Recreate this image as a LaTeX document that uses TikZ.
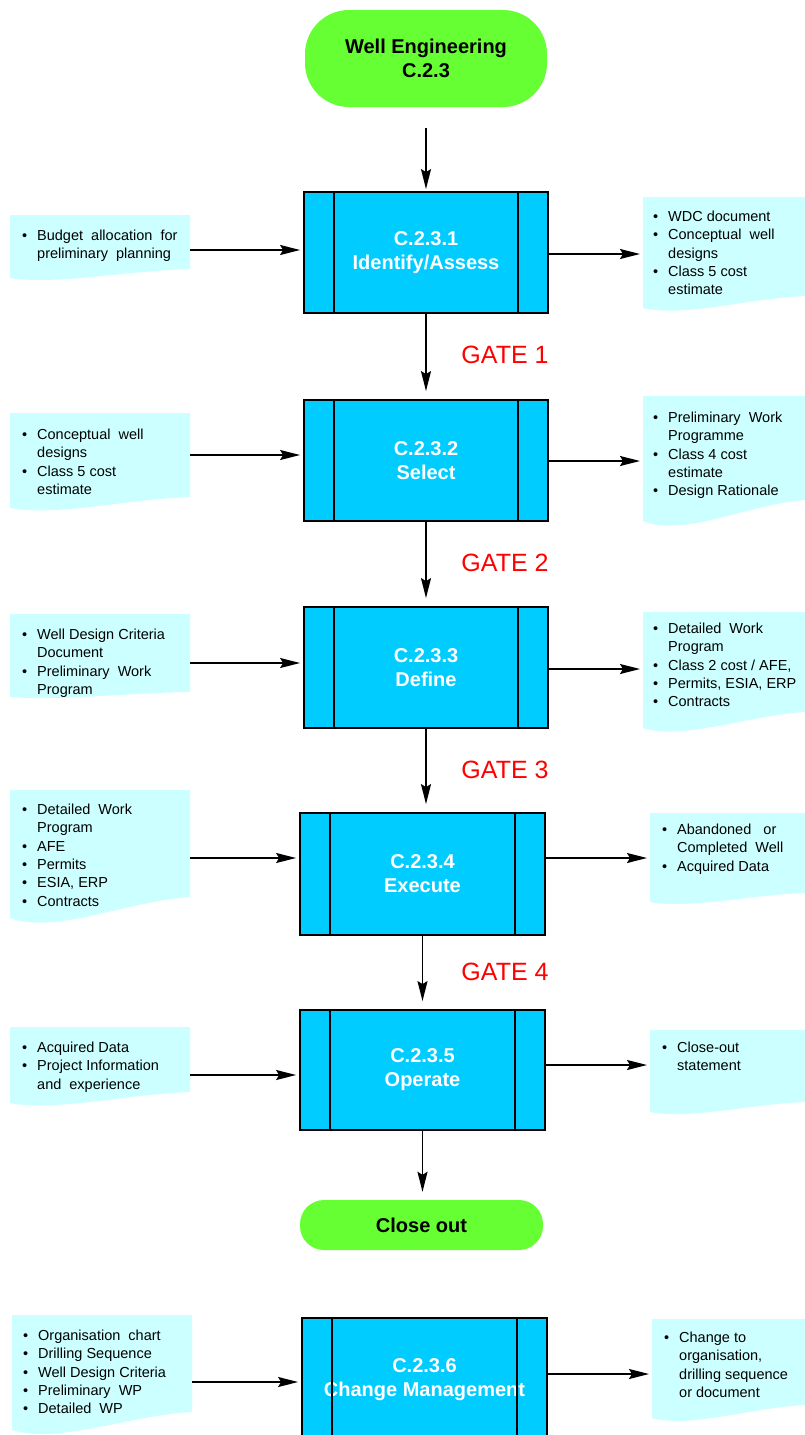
\documentclass[tikz,border=0pt]{standalone}
\usepackage{fontspec}
\setmainfont{Liberation Sans}
\usetikzlibrary{arrows.meta}

\definecolor{boxcyan}{RGB}{0,204,255}
\definecolor{doccyan}{RGB}{204,255,255}
\definecolor{termgreen}{RGB}{102,255,51}
\definecolor{gatered}{RGB}{255,0,0}

% bullet and hanging indent for list lines
\newcommand\bl{\makebox[15pt][l]{\textbullet}}
\newcommand\ind{\hspace*{15pt}}
\newcommand\fs{\rule{0pt}{12pt}}

% document shape with wavy bottom: x1, ytop, x2, ybottom-left, ybottom-right
\newcommand\docfill[5]{%
  \fill[doccyan] (#1,#4) -- (#1,#2) -- (#3,#2) -- (#3,#5)
    .. controls ({#3-0.35*(#3-#1)},{#5+0.2*(#4-#5)}) and ({#1+0.25*(#3-#1)},{#4+0.8*(#4-#5)}) .. (#1,#4) -- cycle;}

% process box with the two inner vertical bars
\newcommand\bars[1]{%
  \draw[line width=1.8pt] ([xshift=31pt]#1.north west) -- ([xshift=31pt]#1.south west);
  \draw[line width=1.8pt] ([xshift=-31pt]#1.north east) -- ([xshift=-31pt]#1.south east);}

\tikzset{
  procbox/.style={draw=black, line width=1.8pt, fill=boxcyan, minimum width=244pt,
    minimum height=121pt, inner sep=0pt, align=center, text=white,
    font=\bfseries\fontsize{20}{24}\selectfont},
  term/.style={fill=termgreen, minimum width=242pt, inner sep=0pt, align=center,
    font=\bfseries\fontsize{20}{24}\selectfont},
  doctxt/.style={anchor=north west, inner sep=0pt, align=left,
    font=\fontsize{14.5}{18.4}\selectfont},
  gate/.style={text=gatered, inner sep=0pt, font=\fontsize{25}{29}\selectfont},
  arr/.style={line width=1.7pt, -{Stealth[length=20pt,width=10pt,inset=3pt]}},
  varr/.style={arr, shorten >=8pt},
  harr/.style={arr, shorten >=3pt},
}

\begin{document}
\begin{tikzpicture}[x=1pt,y=-1pt]
\useasboundingbox (0,0) rectangle (805,1435);
\fill[white] (0,0) rectangle (805,1435);
\clip (0,0) rectangle (805,1435);

% ---- main column ----
\node[term, minimum height=97pt, rounded corners=44pt] (start) at (426,58.5) {Well Engineering\\C.2.3};

\node[procbox] (B1) at (426,252.5) {C.2.3.1\\Identify/Assess};
\bars{B1}
\node[procbox] (B2) at (426,460.5) {C.2.3.2\\Select};
\bars{B2}
\node[procbox] (B3) at (426,667.5) {C.2.3.3\\Define};
\bars{B3}
\node[procbox, minimum width=245pt, minimum height=122pt] (B4) at (422.5,874) {C.2.3.4\\Execute};
\bars{B4}
\node[procbox, minimum width=245pt, minimum height=120pt] (B5) at (422.5,1070) {C.2.3.5\\Operate};
\bars{B5}
\node[term, minimum height=50pt, minimum width=243pt, rounded corners=24pt] (close) at (421.5,1225) {Close out};
\node[procbox, minimum width=245pt, minimum height=124pt] (B6) at (424.5,1380) {C.2.3.6\\Change Management};
\bars{B6}

\draw[arr, shorten <=21pt, shorten >=2pt] (start) -- (B1);
\draw[varr] (B1) -- (B2);
\draw[varr] (B2) -- (B3);
\draw[varr] (B3.south) -- (B3.south |- B4.north);
\draw[varr] (B4) -- (B5);
\draw[varr] (B5.south) -- (B5.south |- close.north);

\node[gate] (g1) at (505,355) {GATE 1};
\node[gate] (g2) at (505,563) {GATE 2};
\node[gate] (g3) at (505,770) {GATE 3};
\node[gate] (g4) at (505,972) {GATE 4};

% ---- row 1 ----
\docfill{10}{215}{190}{278}{269}
\node[doctxt] (L1) at (22,228) {\fs\bl Budget\ \ allocation\ \ for\\\ind preliminary\ \ planning};
\coordinate (L1a) at (190,250);
\draw[harr] (L1a) -- (L1a -| B1.west);

\docfill{643}{197}{805}{308}{296}
\node[doctxt] (R1) at (653,209) {\fs\bl WDC document\\\bl Conceptual\ \ well\\\ind designs\\\bl Class 5 cost\\\ind estimate};
\coordinate (R1a) at (643,254);
\draw[harr] (R1a -| B1.east) -- (R1a);

% ---- row 2 ----
\docfill{10}{413}{190}{508}{497}
\node[doctxt] (L2) at (22,427) {\fs\bl Conceptual\ \ well\\\ind designs\\\bl Class 5 cost\\\ind estimate};
\coordinate (L2a) at (190,455);
\draw[harr] (L2a) -- (L2a -| B2.west);

\docfill{643}{396}{805}{521}{500}
\node[doctxt] (R2) at (653,410) {\fs\bl Preliminary\ \ Work\\\ind Programme\\\bl Class 4 cost\\\ind estimate\\\bl Design Rationale};
\coordinate (R2a) at (643,461);
\draw[harr] (R2a -| B2.east) -- (R2a);

% ---- row 3 ----
\docfill{10}{614}{190}{697}{692}
\node[doctxt] (L3) at (22,627) {\fs\bl Well Design Criteria\\\ind Document\\\bl Preliminary\ \ Work\\\ind Program};
\coordinate (L3a) at (190,663);
\draw[harr] (L3a) -- (L3a -| B3.west);

\docfill{643}{612}{805}{728}{712}
\node[doctxt] (R3) at (653,621) {\fs\bl Detailed\ \ Work\\\ind Program\\\bl Class 2 cost / AFE,\\\bl Permits, ESIA,\ ERP\\\bl Contracts};
\coordinate (R3a) at (643,669);
\draw[harr] (R3a -| B3.east) -- (R3a);

% ---- row 4 ----
\docfill{10}{790}{190}{918}{897}
\node[doctxt] (L4) at (22,802) {\fs\bl Detailed\ \ Work\\\ind Program\\\bl AFE\\\bl Permits\\\bl ESIA, ERP\\\bl Contracts};
\coordinate (L4a) at (190,858);
\draw[harr] (L4a) -- (L4a -| B4.west);

\docfill{650}{813}{805}{902}{893}
\node[doctxt] (R4) at (662,822) {\fs\bl Abandoned\ \ \ or\\\ind Completed\ \ Well\\\bl Acquired Data};
\coordinate (R4a) at (650,858);
\draw[harr] (R4a -| B4.east) -- (R4a);

% ---- row 5 ----
\docfill{10}{1027}{190}{1103}{1092}
\node[doctxt] (L5) at (22,1040) {\fs\bl Acquired Data\\\bl Project Information\\\ind and\ \ experience};
\coordinate (L5a) at (190,1075);
\draw[harr] (L5a) -- (L5a -| B5.west);

\docfill{650}{1030}{805}{1112}{1102}
\node[doctxt] (R5) at (662,1040) {\fs\bl Close-out\\\ind statement};
\coordinate (R5a) at (650,1065);
\draw[harr] (R5a -| B5.east) -- (R5a);

% ---- row 6 ----
\docfill{12}{1315}{192}{1430}{1412}
\node[doctxt] (L6) at (23,1328) {\fs\bl Organisation\ \ chart\\\bl Drilling Sequence\\\bl Well Design Criteria\\\bl Preliminary\ \ WP\\\bl Detailed\ \ WP};
\coordinate (L6a) at (192,1382);
\draw[harr] (L6a) -- (L6a -| B6.west);

\docfill{652}{1319}{805}{1418}{1405}
\node[doctxt] (R6) at (664,1330) {\fs\bl Change to\\\ind organisation,\\\ind drilling sequence\\\ind or document};
\coordinate (R6a) at (652,1374);
\draw[harr] (R6a -| B6.east) -- (R6a);
\end{tikzpicture}
\end{document}
